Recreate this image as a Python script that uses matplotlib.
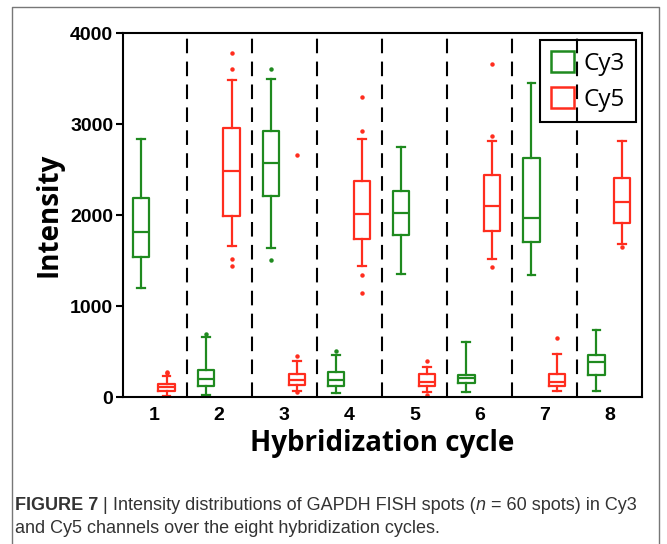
import matplotlib
matplotlib.use("Agg")
import matplotlib.pyplot as plt
from matplotlib.patches import Patch
from matplotlib.lines import Line2D

# Data
cycles = [1, 2, 3, 4, 5, 6, 7, 8]

cy3_whislo = [1200, 20, 1640, 40, 1350, 50, 1340, 65]
cy3_q1 = [1540, 125, 2210, 125, 1785, 155, 1705, 240]
cy3_med = [1815, 200, 2570, 185, 2025, 205, 1965, 380]
cy3_q3 = [2190, 300, 2925, 270, 2265, 245, 2630, 460]
cy3_whishi = [2840, 655, 3500, 460, 2750, 610, 3455, 735]
cy3_fliers = [[], [690], [3610, 1505], [505], [], [], [], []]

cy5_whislo = [15, 1665, 70, 1445, 50, 1515, 65, 1680]
cy5_q1 = [70, 1990, 130, 1735, 120, 1825, 125, 1910]
cy5_med = [105, 2485, 185, 2015, 160, 2100, 170, 2145]
cy5_q3 = [145, 2960, 250, 2370, 250, 2435, 250, 2405]
cy5_whishi = [235, 3485, 395, 2835, 335, 2815, 470, 2815]
cy5_fliers = [[270, 262], [3785, 3600, 1515, 1445], [2660, 450, 50],
              [3295, 2925, 1340, 1145], [395, 20], [3660, 2870, 1430],
              [645], [1645]]

green = "#1f8a1f"
red = "#ff2d1e"


def make_stats(lo, q1, med, q3, hi, fl):
    return [dict(whislo=a, q1=b, med=c, q3=d, whishi=e, fliers=f)
            for a, b, c, d, e, f in zip(lo, q1, med, q3, hi, fl)]


fig = plt.figure(figsize=(6.67, 5.44), dpi=100)
ax = fig.add_axes([0.1844, 0.2702, 0.7781, 0.6691])

for stats, off, col in [
    (make_stats(cy3_whislo, cy3_q1, cy3_med, cy3_q3, cy3_whishi, cy3_fliers), -0.2, green),
    (make_stats(cy5_whislo, cy5_q1, cy5_med, cy5_q3, cy5_whishi, cy5_fliers), 0.19, red),
]:
    ax.bxp(stats, positions=[c + off for c in cycles], widths=0.25,
           capwidths=0.12, manage_ticks=False,
           boxprops=dict(color=col, linewidth=1.6),
           medianprops=dict(color=col, linewidth=1.6),
           whiskerprops=dict(color=col, linewidth=1.6),
           capprops=dict(color=col, linewidth=1.6),
           flierprops=dict(marker="o", markersize=2.2, markerfacecolor=col,
                           markeredgecolor=col))

# dashed separators between cycles
for c in cycles[:-1]:
    ax.axvline(c + 0.5, color="black", linewidth=1.5, linestyle=(0, (7, 4)), zorder=3)

ax.set_xlim(0.52, 8.5)
ax.set_ylim(0, 4000)
ax.set_xticks(cycles)
ax.set_xticklabels([str(c) for c in cycles])
ax.set_yticks([0, 1000, 2000, 3000, 4000])
ax.tick_params(axis="x", length=0, pad=7)
ax.tick_params(axis="y", length=5, width=1.5, direction="out", pad=2)
for lab in ax.get_xticklabels() + ax.get_yticklabels():
    lab.set_fontfamily("Liberation Sans")
    lab.set_fontweight("bold")
    lab.set_fontsize(14)
for sp in ax.spines.values():
    sp.set_linewidth(1.5)

ax.set_ylabel("Intensity", fontfamily="Open Sans", fontweight="bold", fontsize=20, labelpad=5)
ax.set_xlabel("Hybridization cycle", fontfamily="Open Sans", fontweight="bold", fontsize=20, labelpad=4)

handles = [Patch(facecolor="none", edgecolor=green, linewidth=1.8, label="Cy3"),
           Patch(facecolor="none", edgecolor=red, linewidth=1.8, label="Cy5")]
leg = fig.legend(handles=handles, loc="upper right", bbox_to_anchor=(636 / 667, 1 - 40 / 544),
                 prop=dict(family="Open Sans", size=17.5), handlelength=0.95, handleheight=0.95,
                 handletextpad=0.4, borderpad=0.45, labelspacing=0.45, borderaxespad=0,
                 fancybox=False, edgecolor="black", facecolor="none", framealpha=1)
leg.get_frame().set_linewidth(1.5)

# outer frame
fx = [12 / 667, 12 / 667, 659 / 667, 659 / 667]
fy = [0, 1 - 7 / 544, 1 - 7 / 544, 0]
fig.add_artist(Line2D(fx, fy, color="#777777", linewidth=1.0, transform=fig.transFigure))

# caption
cap_font = ["Liberation Sans Narrow", "Liberation Sans"]
cap_col = "#333333"
cap_size = 13
fig.canvas.draw()
r = fig.canvas.get_renderer()
x = 15 / 667
y1 = 1 - 510 / 544
pieces = [("FIGURE 7", "bold", "normal"), (" | ", "normal", "normal"),
          ("Intensity distributions of GAPDH FISH spots (", "normal", "normal"),
          ("n", "normal", "italic"), (" = 60 spots) in Cy3", "normal", "normal")]
for s, w, st in pieces:
    t = fig.text(x, y1, s, fontfamily=cap_font, fontweight=w, fontstyle=st,
                 fontsize=cap_size, color=cap_col, va="baseline", ha="left")
    bb = t.get_window_extent(renderer=r)
    x += bb.width / fig.bbox.width
fig.text(15 / 667, 1 - 533 / 544, "and Cy5 channels over the eight hybridization cycles.",
         fontfamily=cap_font, fontsize=cap_size, color=cap_col, va="baseline", ha="left")

fig.savefig("out.png", dpi=100)
